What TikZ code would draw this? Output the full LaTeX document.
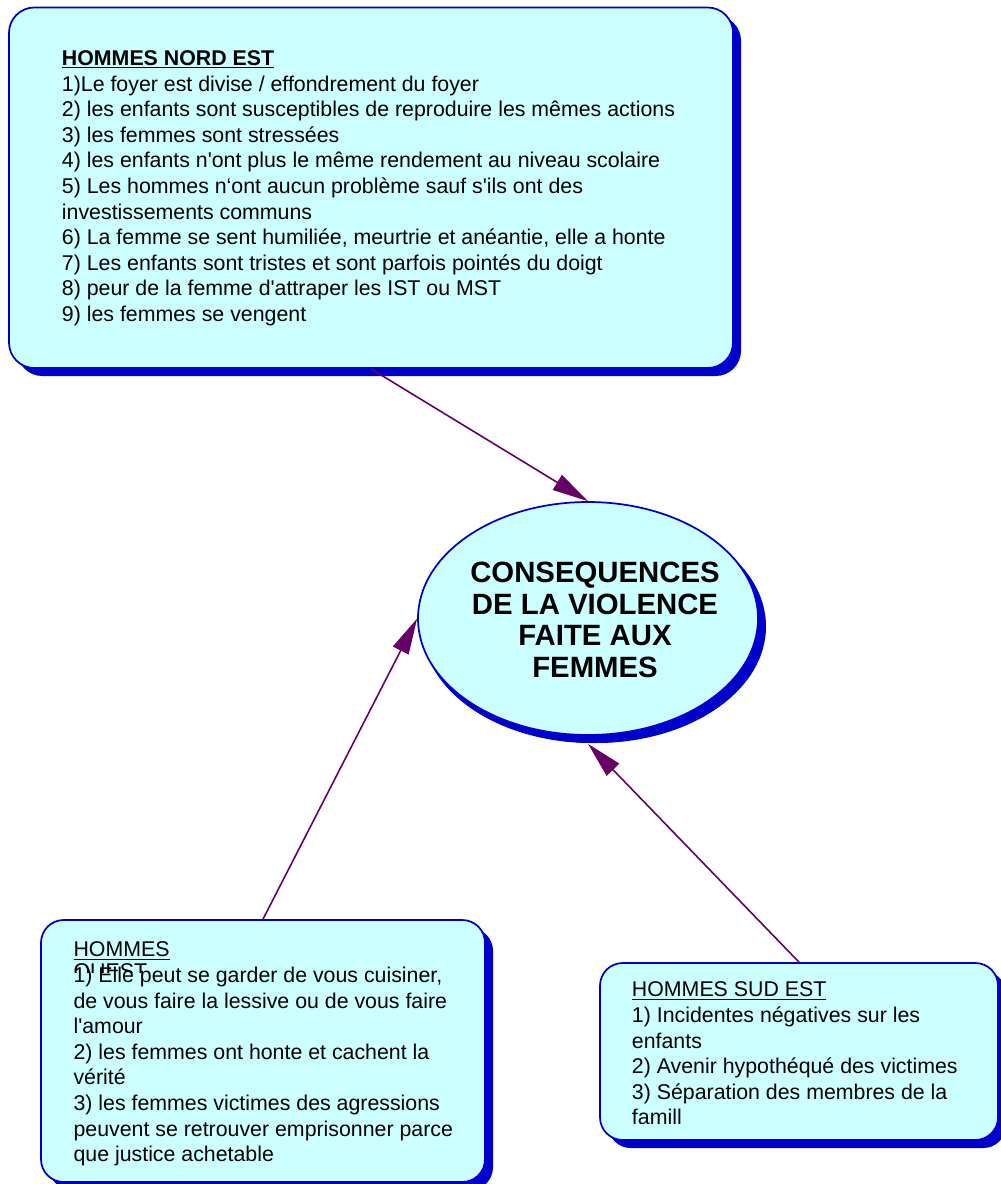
\documentclass[tikz,border=0pt]{standalone}
\usepackage{fontspec}
\setmainfont{Liberation Sans}[Ligatures=TeXOff]
\usetikzlibrary{arrows.meta, shapes.geometric, shadows, positioning}

\definecolor{boxfill}{HTML}{CCFFFF}
\definecolor{boxline}{HTML}{0000CC}
\definecolor{linkcol}{HTML}{660066}

\begin{document}
\begin{tikzpicture}[x=0.75pt, y=-0.75pt, >={Triangle[length=27pt,width=13pt]},
    concept/.style={draw=boxline, line width=1.3pt, fill=boxfill, inner sep=0pt,
        drop shadow={shadow xshift=6pt, shadow yshift=-6pt, fill=boxline, opacity=1}},
    txt/.style={anchor=north west, inner sep=0pt, align=left, font=\fontsize{16pt}{19.2pt}\selectfont},
    link/.style={->, draw=linkcol, line width=1.2pt}]
    \useasboundingbox (0,0) rectangle (1000,1184);
    % boxes
    \node[concept, rounded corners=19pt, minimum width=543pt, minimum height=270.4pt] (nordest) at (371,187.75) {};
    \node[concept, rounded corners=17pt, minimum width=333pt, minimum height=196.5pt] (ouest) at (263,1051) {};
    \node[concept, rounded corners=17pt, minimum width=298.5pt, minimum height=132.75pt] (sudest) at (799,1051.5) {};
    \node[concept, ellipse, minimum width=255pt, minimum height=174.75pt,
        drop shadow={shadow xshift=3pt, shadow yshift=-6pt, fill=boxline, opacity=1}] (cons) at (588,618.5) {};
    % texts
    \node[txt] (nordesttxt) at (61.7,50.4) {\textbf{\underline{HOMMES NORD EST}}\\
        1)Le foyer est divise / effondrement du foyer\\
        2) les enfants sont susceptibles de reproduire les mêmes actions\\
        3) les femmes sont stressées\\
        4) les enfants n'ont plus le même rendement au niveau scolaire\\
        5) Les hommes n‘ont aucun problème sauf s'ils ont des\\
        investissements communs\\
        6) La femme se sent humiliée, meurtrie et anéantie, elle a honte\\
        7) Les enfants sont tristes et sont parfois pointés du doigt\\
        8) peur de la femme d'attraper les IST ou MST\\
        9) les femmes se vengent};
    \node[txt] (ouesttxt) at (73.3,941.7) {\underline{HOMMES}\\
        1) Elle peut se garder de vous cuisiner,\\
        de vous faire la lessive ou de vous faire\\
        l'amour\\
        2) les femmes ont honte et cachent la\\
        vérité\\
        3) les femmes victimes des agressions\\
        peuvent se retrouver emprisonner parce\\
        que justice achetable};
    \begin{scope}
        \clip (60,962) rectangle (200,972.5);
        \node[txt, anchor=base west] (ouestghost) at (73.3,978) {\underline{OUEST}};
    \end{scope}
    \node[txt] (sudesttxt) at (631.7,981.7) {\underline{HOMMES SUD EST}\\
        1) Incidentes négatives sur les\\
        enfants\\
        2) Avenir hypothéqué des victimes\\
        3) Séparation des membres de la\\
        famill};
    \node[align=center, inner sep=0pt, font=\fontsize{22pt}{23.8pt}\selectfont\bfseries] (constxt) at (595,620)
        {CONSEQUENCES\\DE LA VIOLENCE\\FAITE AUX\\FEMMES};
    % links
    \draw[link] (nordest.south) -- (cons.north);
    \draw[link] (ouest.north) -- (cons.west);
    \draw[link] (sudest.north) -- ([yshift=-6pt]cons.south);
\end{tikzpicture}
\end{document}
